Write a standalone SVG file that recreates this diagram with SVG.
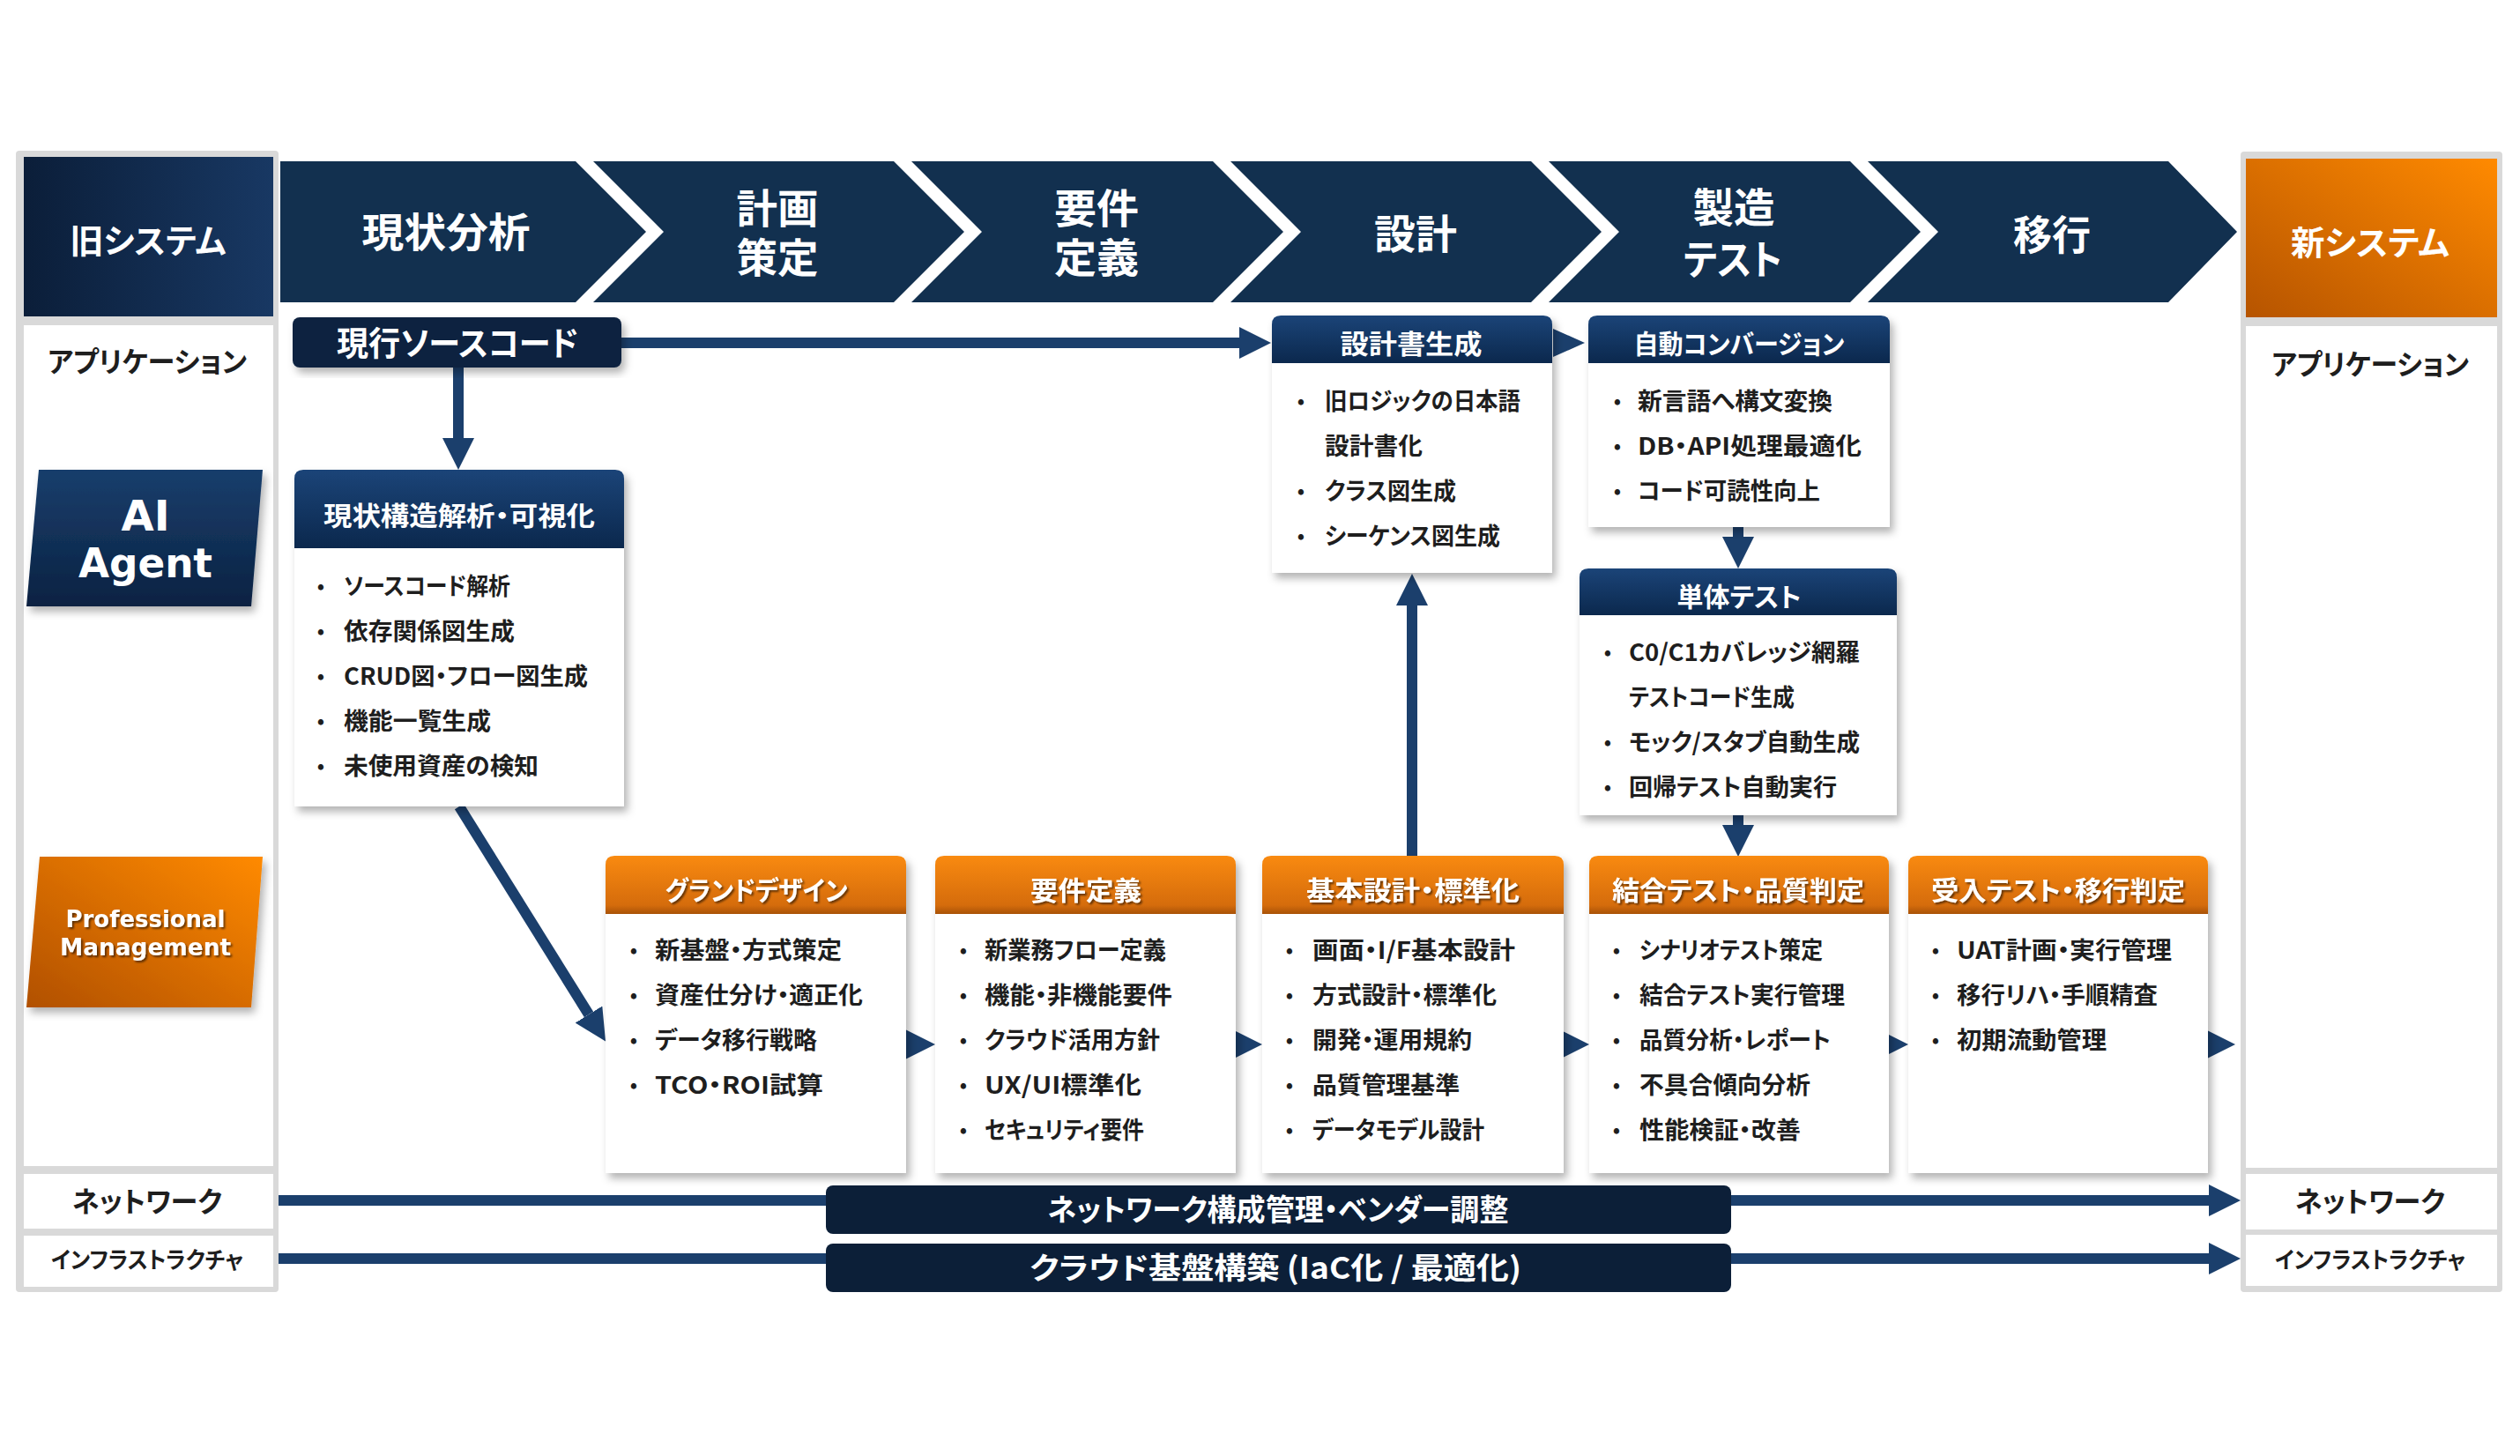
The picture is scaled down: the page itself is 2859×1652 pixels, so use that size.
<svg xmlns="http://www.w3.org/2000/svg" width="2859" height="1652" viewBox="0 0 2859 1652">
<defs>
<style>
.jp{font-family:"Noto Sans CJK JP","Noto Sans CJK SC",sans-serif;font-weight:700;font-feature-settings:"palt" 1}
.en{font-family:"DejaVu Sans","Noto Sans",sans-serif;font-weight:700}
.w{fill:#ffffff}
.k{fill:#1e1e1e}
.ch{font-size:46px}
.side{font-size:38px}
.hd{font-size:30px}
.li{font-size:27px}
.bu{font-size:22px}
.mid{text-anchor:middle}
.chev{fill:#12304f}
.body{fill:#ffffff}
.panel{fill:#d9d9d9}
.cell{fill:#ffffff}
.conn{stroke:#1b3f6c;stroke-width:12;fill:none}
.ah{fill:#1b3f6c}
.band{fill:#0c1f38}
</style>
<linearGradient id="gNavyHd" x1="0" y1="0" x2="0" y2="1"><stop offset="0" stop-color="#1b4478"/><stop offset="1" stop-color="#0b284d"/></linearGradient>
<linearGradient id="gOrHd" x1="0" y1="0" x2="0" y2="1"><stop offset="0" stop-color="#f98a10"/><stop offset="0.85" stop-color="#d56c0c"/><stop offset="1" stop-color="#a85207"/></linearGradient>
<linearGradient id="gOld" x1="0" y1="0" x2="1" y2="0"><stop offset="0" stop-color="#0b1e39"/><stop offset="1" stop-color="#183863"/></linearGradient>
<linearGradient id="gNew" x1="1" y1="0" x2="0" y2="1"><stop offset="0" stop-color="#ff8a00"/><stop offset="1" stop-color="#b65400"/></linearGradient>
<linearGradient id="gAI" x1="0" y1="0" x2="0" y2="1"><stop offset="0" stop-color="#183e6c"/><stop offset="1" stop-color="#0b2242"/></linearGradient>
<linearGradient id="gPM" x1="1" y1="0" x2="0" y2="1"><stop offset="0" stop-color="#ff8a00"/><stop offset="1" stop-color="#b15000"/></linearGradient>
<filter id="sh" x="-10%" y="-10%" width="130%" height="130%"><feDropShadow dx="4" dy="6" stdDeviation="5" flood-color="#000" flood-opacity="0.3"/></filter>
<filter id="tsh" x="-5%" y="-20%" width="115%" height="150%"><feDropShadow dx="2" dy="2" stdDeviation="1" flood-color="#000" flood-opacity="0.55"/></filter>
<marker id="arr" markerUnits="userSpaceOnUse" markerWidth="36" markerHeight="36" viewBox="0 0 36 36" refX="0" refY="18" orient="auto"><path d="M0,0 L36,18 L0,36 Z" fill="#1b3f6c"/></marker>
</defs>
<rect width="2859" height="1652" fill="#ffffff"/>

<g id="old-system">
<rect class="panel" x="18" y="171" width="298" height="1295" rx="4"/>
<rect x="27" y="178" width="283" height="181" fill="url(#gOld)"/>
<text class="jp w side mid" x="168" y="287" textLength="177" lengthAdjust="spacingAndGlyphs">旧システム</text>
<rect class="cell" x="27" y="369" width="283" height="954"/>
<text class="jp k mid" x="167" y="422" font-size="32" textLength="226" lengthAdjust="spacingAndGlyphs">アプリケーション</text>
<rect class="cell" x="27" y="1332" width="283" height="62"/>
<text class="jp k mid" x="167" y="1375" font-size="32" textLength="170" lengthAdjust="spacingAndGlyphs">ネットワーク</text>
<rect class="cell" x="27" y="1402" width="283" height="58"/>
<text class="jp k mid" x="167" y="1439" font-size="26" textLength="218" lengthAdjust="spacingAndGlyphs">インフラストラクチャ</text>
</g>

<g id="ai-agent">
<polygon points="44,533 298,533 285,688 30,688" fill="url(#gAI)" filter="url(#sh)"/>
<text class="en w mid" x="165" y="602" font-size="48">AI</text>
<text class="en w mid" x="165" y="655" font-size="46" textLength="152" lengthAdjust="spacingAndGlyphs">Agent</text>
</g>

<g id="professional-management">
<polygon points="45,972 298,972 285,1143 30,1143" fill="url(#gPM)" filter="url(#sh)"/>
<text class="en w mid" filter="url(#tsh)" font-size="26"><tspan x="165" y="1052" textLength="181" lengthAdjust="spacingAndGlyphs">Professional</tspan><tspan x="165" y="1084" textLength="194" lengthAdjust="spacingAndGlyphs">Management</tspan></text>
</g>

<g id="new-system">
<rect class="panel" x="2542" y="172" width="297" height="1294" rx="4"/>
<rect x="2548" y="180" width="285" height="180" fill="url(#gNew)"/>
<text class="jp w side mid" x="2689" y="289" textLength="180" lengthAdjust="spacingAndGlyphs">新システム</text>
<rect class="cell" x="2548" y="370" width="285" height="955"/>
<text class="jp k mid" x="2689" y="425" font-size="32" textLength="224" lengthAdjust="spacingAndGlyphs">アプリケーション</text>
<rect class="cell" x="2548" y="1332" width="285" height="63"/>
<text class="jp k mid" x="2689" y="1375" font-size="32" textLength="170" lengthAdjust="spacingAndGlyphs">ネットワーク</text>
<rect class="cell" x="2548" y="1401" width="285" height="58"/>
<text class="jp k mid" x="2689" y="1439" font-size="26" textLength="216" lengthAdjust="spacingAndGlyphs">インフラストラクチャ</text>
</g>

<g id="phases">
<g id="phase-1"><polygon class="chev" points="318,183 653,183 733,263 653,343 318,343"/>
<text class="jp w ch mid" x="506" y="280" textLength="191" lengthAdjust="spacingAndGlyphs">現状分析</text></g>
<g id="phase-2"><polygon class="chev" points="673,183 1014,183 1094,263 1014,343 673,343 753,263"/>
<text class="jp w ch mid"><tspan x="882" y="253" textLength="93" lengthAdjust="spacingAndGlyphs">計画</tspan><tspan x="882" y="309" textLength="93" lengthAdjust="spacingAndGlyphs">策定</tspan></text></g>
<g id="phase-3"><polygon class="chev" points="1034,183 1376,183 1456,263 1376,343 1034,343 1114,263"/>
<text class="jp w ch mid"><tspan x="1244" y="253" textLength="96" lengthAdjust="spacingAndGlyphs">要件</tspan><tspan x="1244" y="309" textLength="96" lengthAdjust="spacingAndGlyphs">定義</tspan></text></g>
<g id="phase-4"><polygon class="chev" points="1396,183 1737,183 1817,263 1737,343 1396,343 1476,263"/>
<text class="jp w ch mid" x="1606" y="282" textLength="94" lengthAdjust="spacingAndGlyphs">設計</text></g>
<g id="phase-5"><polygon class="chev" points="1757,183 2099,183 2179,263 2099,343 1757,343 1837,263"/>
<text class="jp w ch mid"><tspan x="1967" y="252" textLength="93" lengthAdjust="spacingAndGlyphs">製造</tspan><tspan x="1966" y="311" textLength="112" lengthAdjust="spacingAndGlyphs">テスト</tspan></text></g>
<g id="phase-6"><polygon class="chev" points="2119,183 2460,183 2538,263 2460,343 2119,343 2199,263"/>
<text class="jp w ch mid" x="2328" y="283" textLength="88" lengthAdjust="spacingAndGlyphs">移行</text></g>
</g>

<g id="connectors">
<line class="conn" x1="705" y1="389" x2="1406" y2="389" marker-end="url(#arr)"/>
<line class="conn" x1="520" y1="417" x2="520" y2="497" marker-end="url(#arr)"/>
<line class="conn" x1="521" y1="915" x2="668" y2="1151" marker-end="url(#arr)"/>
<polygon class="ah" points="1762,373 1798,389 1762,405"/>
<line class="conn" x1="1972" y1="598" x2="1972" y2="609" marker-end="url(#arr)"/>
<line class="conn" x1="1972" y1="925" x2="1972" y2="936" marker-end="url(#arr)"/>
<line class="conn" x1="1602" y1="971" x2="1602" y2="687" marker-end="url(#arr)"/>
<polygon class="ah" points="1025,1167 1061,1185 1025,1203"/>
<polygon class="ah" points="1396,1167 1432,1185 1396,1203"/>
<polygon class="ah" points="1767,1167 1803,1185 1767,1203"/>
<polygon class="ah" points="2129,1167 2165,1185 2129,1203"/>
<polygon class="ah" points="2500,1167 2536,1185 2500,1203"/>
<line class="conn" x1="316" y1="1362" x2="2506" y2="1362" marker-end="url(#arr)"/>
<line class="conn" x1="316" y1="1428" x2="2506" y2="1428" marker-end="url(#arr)"/>
</g>

<g id="source-code">
<rect x="332" y="360" width="373" height="57" rx="8" fill="#0d2341" filter="url(#sh)"/>
<text class="jp w mid" x="519" y="403" font-size="38" textLength="274" lengthAdjust="spacingAndGlyphs">現行ソースコード</text>
</g>

<g id="as-is-analysis">
<path class="body" filter="url(#sh)" d="M334,543 Q334,533 344,533 H698 Q708,533 708,543 V915 H334 Z"/>
<path fill="url(#gNavyHd)" d="M334,543 Q334,533 344,533 H698 Q708,533 708,543 V622 H334 Z"/>
<text class="jp w hd mid" x="521" y="596" textLength="308" lengthAdjust="spacingAndGlyphs">現状構造解析・可視化</text>
<text class="jp k bu mid" x="364" y="673">•</text><text class="jp k li" x="390" y="675" textLength="189" lengthAdjust="spacingAndGlyphs">ソースコード解析</text>
<text class="jp k bu mid" x="364" y="724">•</text><text class="jp k li" x="390" y="726" textLength="194" lengthAdjust="spacingAndGlyphs">依存関係図生成</text>
<text class="jp k bu mid" x="364" y="775">•</text><text class="jp k li" x="390" y="777" textLength="277" lengthAdjust="spacingAndGlyphs">CRUD図・フロー図生成</text>
<text class="jp k bu mid" x="364" y="826">•</text><text class="jp k li" x="390" y="828" textLength="167" lengthAdjust="spacingAndGlyphs">機能一覧生成</text>
<text class="jp k bu mid" x="364" y="877">•</text><text class="jp k li" x="390" y="879" textLength="221" lengthAdjust="spacingAndGlyphs">未使用資産の検知</text>
</g>

<g id="design-doc">
<path class="body" filter="url(#sh)" d="M1443,368 Q1443,358 1453,358 H1751 Q1761,358 1761,368 V650 H1443 Z"/>
<path fill="url(#gNavyHd)" d="M1443,368 Q1443,358 1453,358 H1751 Q1761,358 1761,368 V412 H1443 Z"/>
<text class="jp w hd mid" x="1601" y="401" textLength="161" lengthAdjust="spacingAndGlyphs">設計書生成</text>
<text class="jp k bu mid" x="1476" y="463">•</text><text class="jp k li"><tspan x="1503" y="465" textLength="222" lengthAdjust="spacingAndGlyphs">旧ロジックの日本語</tspan><tspan x="1503" y="516" textLength="111" lengthAdjust="spacingAndGlyphs">設計書化</tspan></text>
<text class="jp k bu mid" x="1476" y="565">•</text><text class="jp k li" x="1503" y="567" textLength="149" lengthAdjust="spacingAndGlyphs">クラス図生成</text>
<text class="jp k bu mid" x="1476" y="616">•</text><text class="jp k li" x="1503" y="618" textLength="199" lengthAdjust="spacingAndGlyphs">シーケンス図生成</text>
</g>

<g id="auto-conversion">
<path class="body" filter="url(#sh)" d="M1802,368 Q1802,358 1812,358 H2134 Q2144,358 2144,368 V598 H1802 Z"/>
<path fill="url(#gNavyHd)" d="M1802,368 Q1802,358 1812,358 H2134 Q2144,358 2144,368 V412 H1802 Z"/>
<text class="jp w hd mid" x="1973" y="401" textLength="239" lengthAdjust="spacingAndGlyphs">自動コンバージョン</text>
<text class="jp k bu mid" x="1835" y="463">•</text><text class="jp k li" x="1858" y="465" textLength="221" lengthAdjust="spacingAndGlyphs">新言語へ構文変換</text>
<text class="jp k bu mid" x="1835" y="514">•</text><text class="jp k li" x="1858" y="516" textLength="254" lengthAdjust="spacingAndGlyphs">DB・API処理最適化</text>
<text class="jp k bu mid" x="1835" y="565">•</text><text class="jp k li" x="1858" y="567" textLength="207" lengthAdjust="spacingAndGlyphs">コード可読性向上</text>
</g>

<g id="unit-test">
<path class="body" filter="url(#sh)" d="M1792,655 Q1792,645 1802,645 H2142 Q2152,645 2152,655 V925 H1792 Z"/>
<path fill="url(#gNavyHd)" d="M1792,655 Q1792,645 1802,645 H2142 Q2152,645 2152,655 V698 H1792 Z"/>
<text class="jp w hd mid" x="1973" y="688" textLength="141" lengthAdjust="spacingAndGlyphs">単体テスト</text>
<text class="jp k bu mid" x="1824" y="748">•</text><text class="jp k li"><tspan x="1848" y="750" textLength="262" lengthAdjust="spacingAndGlyphs">C0/C1カバレッジ網羅</tspan><tspan x="1848" y="801" textLength="188" lengthAdjust="spacingAndGlyphs">テストコード生成</tspan></text>
<text class="jp k bu mid" x="1824" y="850">•</text><text class="jp k li" x="1848" y="852" textLength="262" lengthAdjust="spacingAndGlyphs">モック/スタブ自動生成</text>
<text class="jp k bu mid" x="1824" y="901">•</text><text class="jp k li" x="1848" y="903" textLength="236" lengthAdjust="spacingAndGlyphs">回帰テスト自動実行</text>
</g>

<g id="grand-design">
<path class="body" filter="url(#sh)" d="M687,981 Q687,971 697,971 H1018 Q1028,971 1028,981 V1331 H687 Z"/>
<path fill="url(#gOrHd)" d="M687,981 Q687,971 697,971 H1018 Q1028,971 1028,981 V1037 H687 Z"/>
<text class="jp w hd mid" x="858" y="1021" filter="url(#tsh)" textLength="207" lengthAdjust="spacingAndGlyphs">グランドデザイン</text>
<text class="jp k bu mid" x="719" y="1086">•</text><text class="jp k li" x="743" y="1088" textLength="212" lengthAdjust="spacingAndGlyphs">新基盤・方式策定</text>
<text class="jp k bu mid" x="719" y="1137">•</text><text class="jp k li" x="743" y="1139" textLength="236" lengthAdjust="spacingAndGlyphs">資産仕分け・適正化</text>
<text class="jp k bu mid" x="719" y="1188">•</text><text class="jp k li" x="743" y="1190" textLength="184" lengthAdjust="spacingAndGlyphs">データ移行戦略</text>
<text class="jp k bu mid" x="719" y="1239">•</text><text class="jp k li" x="743" y="1241" textLength="191" lengthAdjust="spacingAndGlyphs">TCO・ROI試算</text>
</g>

<g id="requirements">
<path class="body" filter="url(#sh)" d="M1061,981 Q1061,971 1071,971 H1392 Q1402,971 1402,981 V1331 H1061 Z"/>
<path fill="url(#gOrHd)" d="M1061,981 Q1061,971 1071,971 H1392 Q1402,971 1402,981 V1037 H1061 Z"/>
<text class="jp w hd mid" x="1232" y="1021" filter="url(#tsh)" textLength="126" lengthAdjust="spacingAndGlyphs">要件定義</text>
<text class="jp k bu mid" x="1093" y="1086">•</text><text class="jp k li" x="1117" y="1088" textLength="206" lengthAdjust="spacingAndGlyphs">新業務フロー定義</text>
<text class="jp k bu mid" x="1093" y="1137">•</text><text class="jp k li" x="1117" y="1139" textLength="213" lengthAdjust="spacingAndGlyphs">機能・非機能要件</text>
<text class="jp k bu mid" x="1093" y="1188">•</text><text class="jp k li" x="1117" y="1190" textLength="199" lengthAdjust="spacingAndGlyphs">クラウド活用方針</text>
<text class="jp k bu mid" x="1093" y="1239">•</text><text class="jp k li" x="1117" y="1241" textLength="178" lengthAdjust="spacingAndGlyphs">UX/UI標準化</text>
<text class="jp k bu mid" x="1093" y="1290">•</text><text class="jp k li" x="1117" y="1292" textLength="181" lengthAdjust="spacingAndGlyphs">セキュリティ要件</text>
</g>

<g id="basic-design">
<path class="body" filter="url(#sh)" d="M1432,981 Q1432,971 1442,971 H1764 Q1774,971 1774,981 V1331 H1432 Z"/>
<path fill="url(#gOrHd)" d="M1432,981 Q1432,971 1442,971 H1764 Q1774,971 1774,981 V1037 H1432 Z"/>
<text class="jp w hd mid" x="1603" y="1021" filter="url(#tsh)" textLength="242" lengthAdjust="spacingAndGlyphs">基本設計・標準化</text>
<text class="jp k bu mid" x="1463" y="1086">•</text><text class="jp k li" x="1489" y="1088" textLength="230" lengthAdjust="spacingAndGlyphs">画面・I/F基本設計</text>
<text class="jp k bu mid" x="1463" y="1137">•</text><text class="jp k li" x="1489" y="1139" textLength="209" lengthAdjust="spacingAndGlyphs">方式設計・標準化</text>
<text class="jp k bu mid" x="1463" y="1188">•</text><text class="jp k li" x="1489" y="1190" textLength="181" lengthAdjust="spacingAndGlyphs">開発・運用規約</text>
<text class="jp k bu mid" x="1463" y="1239">•</text><text class="jp k li" x="1489" y="1241" textLength="167" lengthAdjust="spacingAndGlyphs">品質管理基準</text>
<text class="jp k bu mid" x="1463" y="1290">•</text><text class="jp k li" x="1489" y="1292" textLength="195" lengthAdjust="spacingAndGlyphs">データモデル設計</text>
</g>

<g id="integration-test">
<path class="body" filter="url(#sh)" d="M1803,981 Q1803,971 1813,971 H2133 Q2143,971 2143,981 V1331 H1803 Z"/>
<path fill="url(#gOrHd)" d="M1803,981 Q1803,971 1813,971 H2133 Q2143,971 2143,981 V1037 H1803 Z"/>
<text class="jp w hd mid" x="1972" y="1021" filter="url(#tsh)" textLength="286" lengthAdjust="spacingAndGlyphs">結合テスト・品質判定</text>
<text class="jp k bu mid" x="1834" y="1086">•</text><text class="jp k li" x="1860" y="1088" textLength="208" lengthAdjust="spacingAndGlyphs">シナリオテスト策定</text>
<text class="jp k bu mid" x="1834" y="1137">•</text><text class="jp k li" x="1860" y="1139" textLength="233" lengthAdjust="spacingAndGlyphs">結合テスト実行管理</text>
<text class="jp k bu mid" x="1834" y="1188">•</text><text class="jp k li" x="1860" y="1190" textLength="217" lengthAdjust="spacingAndGlyphs">品質分析・レポート</text>
<text class="jp k bu mid" x="1834" y="1239">•</text><text class="jp k li" x="1860" y="1241" textLength="194" lengthAdjust="spacingAndGlyphs">不具合傾向分析</text>
<text class="jp k bu mid" x="1834" y="1290">•</text><text class="jp k li" x="1860" y="1292" textLength="183" lengthAdjust="spacingAndGlyphs">性能検証・改善</text>
</g>

<g id="acceptance-test">
<path class="body" filter="url(#sh)" d="M2165,981 Q2165,971 2175,971 H2495 Q2505,971 2505,981 V1331 H2165 Z"/>
<path fill="url(#gOrHd)" d="M2165,981 Q2165,971 2175,971 H2495 Q2505,971 2505,981 V1037 H2165 Z"/>
<text class="jp w hd mid" x="2335" y="1021" filter="url(#tsh)" textLength="288" lengthAdjust="spacingAndGlyphs">受入テスト・移行判定</text>
<text class="jp k bu mid" x="2196" y="1086">•</text><text class="jp k li" x="2220" y="1088" textLength="244" lengthAdjust="spacingAndGlyphs">UAT計画・実行管理</text>
<text class="jp k bu mid" x="2196" y="1137">•</text><text class="jp k li" x="2220" y="1139" textLength="228" lengthAdjust="spacingAndGlyphs">移行リハ・手順精査</text>
<text class="jp k bu mid" x="2196" y="1188">•</text><text class="jp k li" x="2220" y="1190" textLength="170" lengthAdjust="spacingAndGlyphs">初期流動管理</text>
</g>

<g id="network-band">
<rect class="band" x="937" y="1345" width="1027" height="55" rx="8"/>
<text class="jp w mid" x="1450" y="1385" font-size="34" textLength="523" lengthAdjust="spacingAndGlyphs">ネットワーク構成管理・ベンダー調整</text>
</g>
<g id="cloud-band">
<rect class="band" x="937" y="1411" width="1027" height="55" rx="8"/>
<text class="jp w mid" x="1447" y="1451" font-size="34" textLength="558" lengthAdjust="spacingAndGlyphs">クラウド基盤構築 (IaC化 / 最適化)</text>
</g>
</svg>
